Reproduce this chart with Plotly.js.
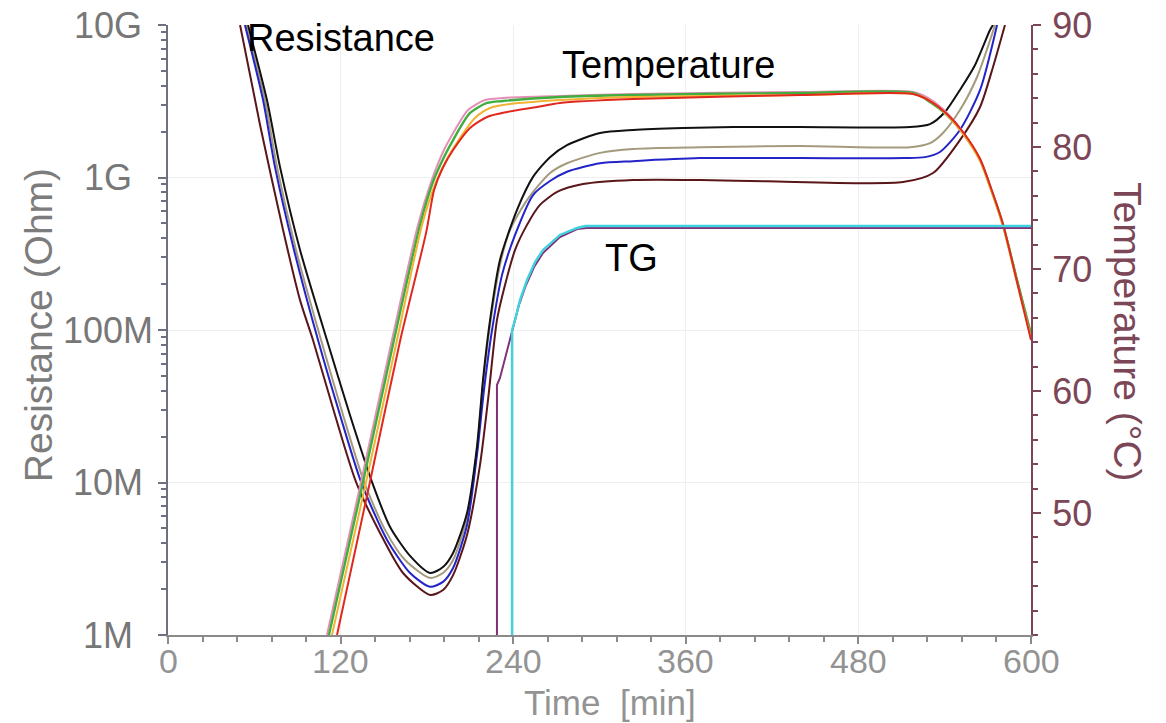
<!DOCTYPE html>
<html>
<head>
<meta charset="utf-8">
<script src="https://cdn.plot.ly/plotly-3.0.1.min.js"></script>
<style>
html,body{margin:0;padding:0;background:#fff;}
#chart{width:1166px;height:723px;}
</style>
</head>
<body>
<div id="chart"></div>
<script>
// ---- Resistance curves (time in min, resistance in Ohm) ----
const tResBlack = [55.6,68.8,77.9,91.8,110.5,126.5,141.8,154.4,168.3,182.2,191.2,198.2,207.9,214.8,219.0,223.9,230.8,242.6,253.8,265.6,277.4,300.4,323.3,358.1,392.8,439.4,515.9,529.8,540.2,550.6,561.1,571.5,573.6];
const rResBlack = [1e10,3.22e9,1.17e9,3.35e8,8.59e7,2.77e7,1.01e7,5.11e6,3.30e6,2.55e6,2.79e6,3.45e6,6.31e6,1.71e7,4.70e7,1.16e8,2.88e8,6.12e8,1.01e9,1.36e9,1.63e9,1.96e9,2.05e9,2.11e9,2.14e9,2.14e9,2.14e9,2.24e9,2.69e9,3.75e9,5.47e9,9.27e9,1e10];

const tResTan = [54.2,67.4,75.8,89.0,106.4,121.7,136.3,150.9,164.8,182.2,191.2,198.2,207.9,214.8,219.0,223.9,230.8,237.8,249.6,265.6,277.4,300.4,323.3,369.9,439.4,515.9,529.8,538.8,550.6,562.5,575.0];
const rResTan = [1e10,3.22e9,1.17e9,3.35e8,8.59e7,2.77e7,1.01e7,4.89e6,3.10e6,2.37e6,2.55e6,3.10e6,5.85e6,1.63e7,4.49e7,1.08e8,2.67e8,4.53e8,7.11e8,1.07e9,1.24e9,1.45e9,1.54e9,1.58e9,1.61e9,1.58e9,1.68e9,1.96e9,2.77e9,4.56e9,1e10];

const tResBlue = [53.5,66.1,74.4,87.6,104.3,119.6,134.2,152.3,168.3,182.2,191.2,198.2,207.9,214.8,219.7,225.3,232.2,241.3,253.8,265.6,277.4,300.4,323.3,369.9,439.4,512.4,526.3,536.7,550.6,564.6,576.4];
const rResBlue = [1e10,3.22e9,1.17e9,3.35e8,8.59e7,2.77e7,1.01e7,4.20e6,2.55e6,2.07e6,2.23e6,2.75e6,5.26e6,1.51e7,4.05e7,1.0e8,2.29e8,4.20e8,7.67e8,9.48e8,1.09e9,1.24e9,1.28e9,1.34e9,1.34e9,1.34e9,1.36e9,1.47e9,2.05e9,3.75e9,1e10];

const tResMaroon = [50.1,64.0,80.0,91.8,100.8,116.1,130.7,147.4,163.4,182.2,191.2,198.2,207.9,216.9,222.5,228.7,234.3,241.3,249.6,258.6,270.5,288.5,323.3,369.9,416.5,511.0,531.9,550.6,564.6,573.6,581.9];
const rResMaroon = [1e10,2.21e9,4.53e8,1.57e8,8.59e7,2.77e7,1.01e7,4.67e6,2.55e6,1.83e6,1.97e6,2.47e6,4.53e6,1.30e7,3.48e7,1.16e8,1.97e8,3.35e8,4.89e8,6.61e8,8.04e8,9.06e8,9.64e8,9.64e8,9.45e8,9.33e8,1.07e9,1.76e9,2.90e9,5.31e9,1e10];

// ---- Temperature curves (time in min, temperature in °C) ----
const tTempPink = [110.5,134.2,155.7,173.8,182.9,191.2,197.5,208.6,220.4,232.9,272.5,323.3,439.4,518.0,529.8,541.6,552.7,564.6,572.9,580.5,590.3,600];
const vTempPink = [40,52.54,64.18,73.61,77.13,79.59,80.98,83.03,83.85,84.02,84.18,84.34,84.51,84.51,83.93,82.79,81.23,79.02,76.39,73.69,69.10,64.75];

const tTempGreen = [111.9,135.6,157.1,175.2,184.2,192.6,198.2,210.0,221.8,232.9,272.5,323.3,439.4,518.0,529.8,541.6,552.7,564.6,572.9,580.5,590.3,600];
const vTempGreen = [40,52.54,64.18,73.61,77.13,79.34,80.57,82.79,83.61,83.77,84.10,84.26,84.43,84.43,83.69,82.62,81.15,78.93,76.31,73.61,69.10,64.59];

const tTempYellow = [114.0,137.7,159.2,176.6,186.3,194.7,203.0,213.4,223.9,237.8,272.5,323.3,439.4,518.0,529.8,541.6,552.7,564.6,572.9,580.5,590.3,600];
const vTempYellow = [40,52.54,64.18,73.61,77.13,79.18,80.74,82.38,83.20,83.52,83.85,84.10,84.26,84.34,83.77,82.62,81.07,78.85,76.23,73.52,68.85,64.34];

const tTempRed = [117.5,140.4,161.5,179.5,185.0,191.0,198.2,210.0,221.8,235.7,256.6,272.5,323.3,439.4,518.0,529.8,541.6,552.7,564.6,572.9,580.5,590.3,600];
const vTempRed = [40,52.54,64.18,73.00,76.48,78.28,79.75,81.56,82.46,82.87,83.28,83.61,83.93,84.26,84.34,83.77,82.70,81.23,79.02,76.39,73.69,68.93,64.18];

// ---- TG curves (time in min, °C) ----
const tTgPurple = [228.7,228.7,230.8,234.3,237.8,240.6,244.0,248.9,254.5,260.7,272.5,284.4,291.3,600];
const vTgPurple = [40,60.49,61.07,62.70,64.34,65.66,67.05,68.69,70.16,71.31,72.62,73.28,73.36,73.36];

const tTgCyan = [239.2,239.2,241.3,244.7,249.6,255.2,260.7,272.5,284.4,290.0,600];
const vTgCyan = [40,65.0,65.82,67.46,69.10,70.57,71.56,72.79,73.36,73.52,73.52];

// ---- Axis ticks ----
const xTicks = [0,120,240,360,480,600];
const resTickVals = [1e6,1e7,1e8,1e9,1e10];
const resTickText = ['1M','10M','100M','1G','10G'];
const tempTicks = [50,60,70,80,90];

const FONT = 'Liberation Sans, Arial, Helvetica, sans-serif';
const grayTick = '#939393';
const leftGray = '#777777';
const maroon = '#7b4757';

function res(t, r, color, w){
  return {x:t, y:r, type:'scatter', mode:'lines', yaxis:'y',
          line:{color:color, width:w||2, shape:'spline', smoothing:0.7}, hoverinfo:'skip'};
}
function temp(t, v, color, w, straight){
  return {x:t, y:v, type:'scatter', mode:'lines', yaxis:'y2',
          line:straight ? {color:color, width:w||2} : {color:color, width:w||2, shape:'spline', smoothing:0.7},
          hoverinfo:'skip'};
}

const data = [
  temp(tTempPink, vTempPink, '#e58fb8', 2),
  temp(tTempGreen, vTempGreen, '#3fae3f', 2.4),
  temp(tTempYellow, vTempYellow, '#f2b233', 2),
  temp(tTempRed, vTempRed, '#e0281e', 2),
  temp(tTgPurple, vTgPurple, '#82307a', 2, true),
  temp(tTgCyan, vTgCyan, '#3fd3e0', 2.4, true),
  res(tResTan, rResTan, '#a49a7c', 2),
  res(tResBlue, rResBlue, '#2323c8', 2),
  res(tResMaroon, rResMaroon, '#5a1618', 2),
  res(tResBlack, rResBlack, '#111111', 2)
];

// left tick labels are centred in the reference, so draw them as annotations
const leftLabels = resTickVals.map((v, i) => ({
  xref:'paper', yref:'y', x:-0.0695, y:Math.log10(v), xanchor:'center', yanchor:'middle',
  showarrow:false, text:resTickText[i], font:{size:36, color:leftGray, family:FONT}
}));
// x tick labels sit close to the axis in the reference
const bottomLabels = xTicks.map(v => ({
  xref:'x', yref:'paper', x:v, y:-0.0426, xanchor:'center', yanchor:'middle',
  showarrow:false, text:String(v), font:{size:34, color:grayTick, family:FONT}
}));

const layout = {
  width:1166, height:723,
  margin:{l:168, r:135, t:25, b:88},
  paper_bgcolor:'#ffffff', plot_bgcolor:'#ffffff',
  showlegend:false,
  font:{family:FONT},
  xaxis:{
    range:[0,600], tickvals:xTicks, showticklabels:false,
    ticks:'outside', ticklen:7, tickwidth:2, tickcolor:'#8a8a8a',
    showline:true, linecolor:'#8a8a8a', linewidth:2, zeroline:false,
    showgrid:true, gridcolor:'#efefef', gridwidth:1,
    minor:{dtick:24, ticks:'outside', ticklen:5, tickcolor:'#8a8a8a', showgrid:false}
  },
  yaxis:{
    type:'log', range:[6,10], tickvals:resTickVals, showticklabels:false,
    ticks:'outside', ticklen:8, tickwidth:2, tickcolor:'#6c7080',
    showline:true, linecolor:'#6c7080', linewidth:2, zeroline:false,
    showgrid:true, gridcolor:'#efefef', gridwidth:1,
    minor:{dtick:'D1', ticks:'outside', ticklen:5, tickcolor:'#6c7080', showgrid:false}
  },
  yaxis2:{
    overlaying:'y', side:'right', range:[40,90], tickvals:tempTicks,
    ticks:'outside', ticklen:8, tickwidth:2, tickcolor:maroon, ticklabelstandoff:4,
    showline:true, linecolor:maroon, linewidth:2, zeroline:false, showgrid:false,
    tickfont:{size:36, color:maroon, family:FONT},
    minor:{dtick:2, ticks:'outside', ticklen:5, tickcolor:maroon}
  },
  annotations:leftLabels.concat(bottomLabels, [
    {xref:'paper', yref:'paper', x:0.0892, y:0.9787, xanchor:'left', yanchor:'middle', showarrow:false,
     text:'Resistance', font:{size:38, color:'#000', family:FONT}},
    {xref:'paper', yref:'paper', x:0.4542, y:0.9344, xanchor:'left', yanchor:'middle', showarrow:false,
     text:'Temperature', font:{size:38, color:'#000', family:FONT}},
    {xref:'paper', yref:'paper', x:0.504, y:0.618, xanchor:'left', yanchor:'middle', showarrow:false,
     text:'TG', font:{size:38, color:'#000', family:FONT}},
    {xref:'paper', yref:'paper', x:-0.1506, y:0.508, xanchor:'center', yanchor:'middle', showarrow:false,
     textangle:-90, text:'Resistance (Ohm)', font:{size:39, color:'#7c7c7c', family:FONT}},
    {xref:'paper', yref:'paper', x:1.111, y:0.497, xanchor:'center', yanchor:'middle', showarrow:false,
     textangle:90, text:'Temperature (°C)', font:{size:39, color:maroon, family:FONT}},
    {xref:'paper', yref:'paper', x:0.512, y:-0.110, xanchor:'center', yanchor:'middle', showarrow:false,
     text:'Time&nbsp;&nbsp;[min]', font:{size:35, color:grayTick, family:FONT}}
  ])
};

Plotly.newPlot('chart', data, layout, {staticPlot:true, displayModeBar:false});
</script>
</body>
</html>
